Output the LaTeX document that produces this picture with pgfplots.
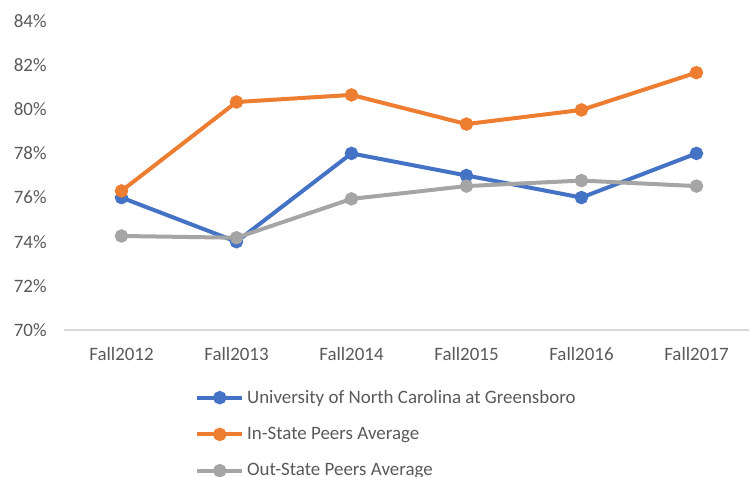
\documentclass[border=0pt]{standalone}
\usepackage{fontspec}
\setmainfont{Carlito}
\usepackage{pgfplots}
\pgfplotsset{compat=1.18}
\definecolor{cblue}{HTML}{4472C4}
\definecolor{corange}{HTML}{ED7D31}
\definecolor{cgray}{HTML}{A5A5A5}
\definecolor{ctext}{HTML}{595959}
\definecolor{cline}{HTML}{D9D9D9}

\begin{document}
\begin{tikzpicture}
\begin{axis}[
    scale only axis,
    width=513.75pt, height=231.75pt,
    xmin=-0.5, xmax=5.457,
    ymin=70, ymax=84,
    ytick={70,72,...,84},
    yticklabel={\pgfmathprintnumber{\tick}\%},
    xtick={0,...,5},
    xticklabels={Fall2012,Fall2013,Fall2014,Fall2015,Fall2016,Fall2017},
    axis x line*=bottom, axis y line*=left,
    x axis line style={draw=cline, line width=0.9pt, -},
    y axis line style={draw=none},
    major tick length=0pt,
    tick style={draw=none},
    /pgf/number format/assume math mode=true,
    ticklabel style={font=\fontsize{14.2}{16}\selectfont, text=ctext},
    yticklabel style={xshift=-9.5pt},
    xticklabel style={yshift=-9.5pt},
    clip=false,
    legend cell align=left,
    legend style={
        at={(0.191,-0.185)}, anchor=north west,
        draw=none, fill=none, inner sep=0pt,
        font=\fontsize{14.2}{16}\selectfont, text=ctext,
        row sep=12.5pt,
        /tikz/every even column/.append style={column sep=1pt},
    },
    legend image code/.code={
        \draw[#1, mark repeat=2, mark phase=2] plot coordinates {(0pt,0pt) (17pt,0pt) (34pt,0pt)};
    },
    every axis plot/.append style={line width=3pt, mark=*, mark size=3.5pt},
]
\addplot[cblue, mark options={fill=cblue, draw=cblue}] coordinates {
    (0,76.0) (1,74.0) (2,78.0) (3,77.0) (4,76.0) (5,78.0)
};
\addlegendentry{University of North Carolina at Greensboro}
\addplot[corange, mark options={fill=corange, draw=corange}] coordinates {
    (0,76.3) (1,80.33) (2,80.65) (3,79.33) (4,79.97) (5,81.66)
};
\addlegendentry{In-State Peers Average}
\addplot[cgray, mark options={fill=cgray, draw=cgray}] coordinates {
    (0,74.26) (1,74.18) (2,75.94) (3,76.52) (4,76.77) (5,76.52)
};
\addlegendentry{Out-State Peers Average}
\end{axis}
\pgfresetboundingbox
\useasboundingbox (-48pt,-110.25pt) rectangle (513.75pt,247.5pt);
\end{tikzpicture}
\end{document}
